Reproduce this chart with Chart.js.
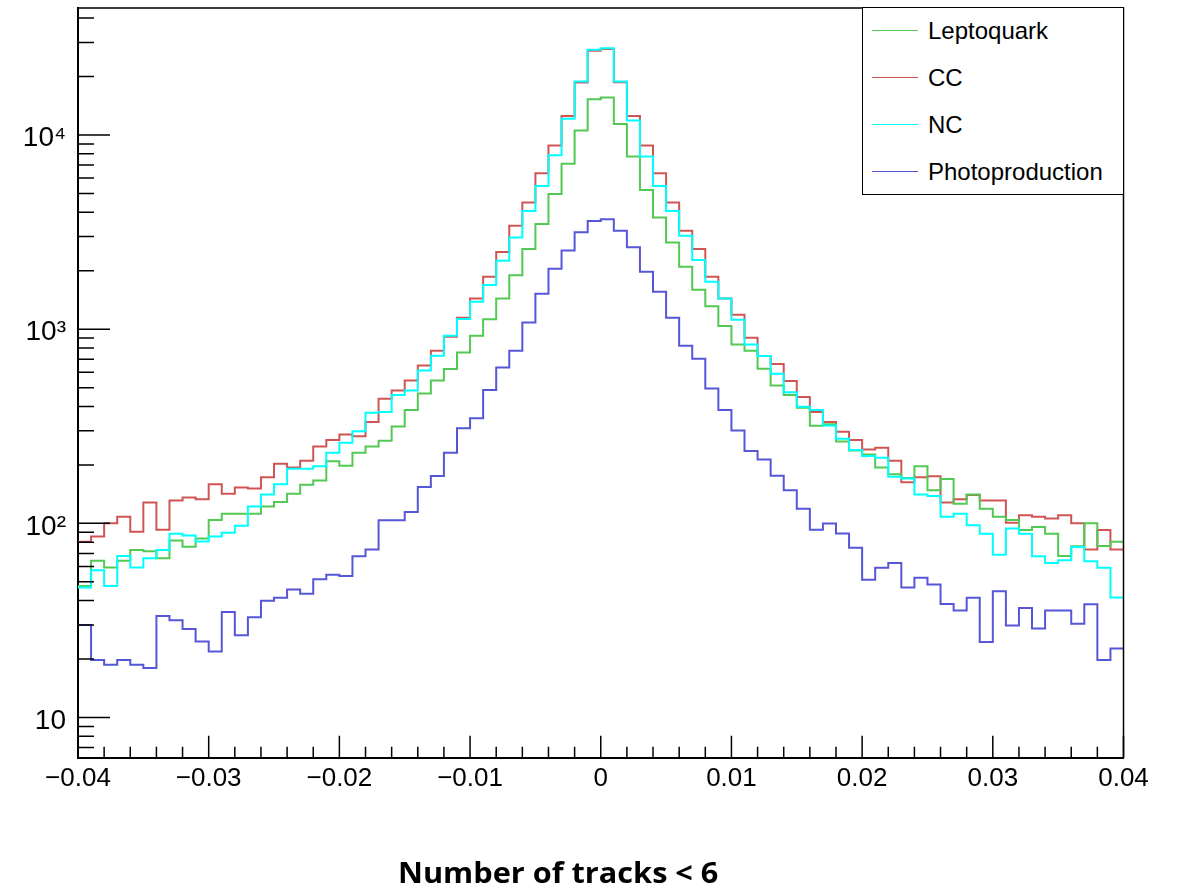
<!DOCTYPE html>
<html>
<head>
<meta charset="utf-8">
<script src="https://cdn.jsdelivr.net/npm/chart.js@4.4.1/dist/chart.umd.min.js"></script>
<style>
  html, body { margin: 0; padding: 0; background: #fff; }
  #wrap { position: relative; width: 1178px; height: 894px; overflow: hidden; background: #fff; }
  #chart { position: absolute; left: 0; top: 0; }
  #legendBox { position: absolute; left: 862px; top: 7px; width: 262px; height: 188px; box-sizing: border-box;
               border: 1.5px solid #000; background: #fff; }
  .lgLine { position: absolute; height: 0; border-top: 1.5px solid; width: 46px; }
  .lgText { position: absolute; font: 24px 'Liberation Sans', Arial, sans-serif; line-height: 24px; color: #000; white-space: nowrap; }
  #title { position: absolute; top: 858px; font: bold 28px 'Open Sans', 'Liberation Sans', sans-serif; line-height: 28px;
           color: #000; white-space: nowrap; transform-origin: center top; }
</style>
</head>
<body>
<div id="wrap">
  <canvas id="chart" width="1178" height="894"></canvas>
  <div id="legendBox"></div>
  <div id="title">Number of tracks &lt; 6</div>
</div>
<script>
// ---------- binning / ticks ----------
const xMin = -0.04;
const xMax = 0.04;
const nBins = 80;
const yMin = 6.21;
const yMax = 45100;
const xTickValues = [-0.04, -0.03, -0.02, -0.01, 0, 0.01, 0.02, 0.03, 0.04];
const xTickLabels = ['\u22120.04', '\u22120.03', '\u22120.02', '\u22120.01', '0', '0.01', '0.02', '0.03', '0.04'];
const yTickValues = [10, 100, 1000, 10000];
const yTickLabels = ['10', '10\u00B2', '10\u00B3', '10\u2074'];

// ---------- series (bin contents, 80 bins) ----------
const seriesNames = ['Leptoquark', 'CC', 'NC', 'Photoproduction'];

const leptoquark = [
  47.6, 64.2, 59.3, 64.2, 72.9, 71.9, 66.1, 81.6, 75.8, 83.6,
  104, 112, 112, 112, 122, 129, 142, 158, 166, 209,
  198, 231, 249, 266, 315, 383, 467, 544, 623, 759,
  926, 1124, 1440, 1895, 2590, 3484, 4969, 7123, 10546, 15300,
  15600, 11400, 7742, 5210, 3755, 2798, 2097, 1594, 1314, 1037,
  835, 774, 625, 513, 458, 394, 318, 324, 264, 237,
  226, 194, 179, 171, 197, 148, 169, 126, 141, 119,
  108, 104, 92.3, 95.8, 88.5, 68, 76.2, 100, 76.5, 80.3
];

const cc = [
  80.3, 85.5, 100, 108, 90.4, 128, 92.8, 131, 136, 133,
  159, 142, 153, 151, 173, 203, 194, 210, 249, 269,
  287, 281, 333, 438, 484, 544, 650, 775, 915, 1145,
  1440, 1864, 2498, 3412, 4486, 6363, 8831, 12540, 18650, 27200,
  27700, 18690, 12540, 8826, 6347, 4488, 3217, 2588, 1864, 1440,
  1186, 903, 727, 661, 541, 448, 375, 333, 296, 269,
  240, 245, 210, 163, 173, 175, 128, 133, 140, 131,
  131, 100.6, 110, 108, 106, 110, 100, 73.3, 92.3, 73.3
];

const nc = [
  46.7, 57.3, 47.6, 68, 59.3, 66.1, 72.9, 88.5, 86.5, 80.7,
  85.5, 89.4, 97.2, 122, 141, 159, 191, 191, 197, 231,
  260, 298, 371, 375, 458, 484, 613, 730, 926, 1128,
  1386, 1690, 2254, 2965, 4063, 5466, 7863, 12120, 18860, 27480,
  28020, 18880, 11880, 7742, 5466, 4061, 3032, 2270, 1755, 1440,
  1118, 835, 727, 589, 474, 399, 384, 319, 273, 239,
  222, 218, 174, 170, 141, 138.5, 108, 112, 97.8, 88.5,
  69, 94, 88.5, 67.7, 62.5, 64.5, 75.6, 63.8, 59, 41.5
];

const photoproduction = [
  30, 19.8, 18.7, 19.8, 18.7, 18, 33.3, 31.7, 28.6, 24.6,
  21.9, 35, 26.5, 32.8, 39.9, 41.4, 45.7, 43.4, 51.5, 54.4,
  53.5, 67.7, 73.3, 103.6, 103.6, 114.5, 154, 175.6, 231, 309,
  348, 486, 635, 774, 1081, 1523, 2049, 2539, 3154, 3611,
  3679, 3217, 2640, 1975, 1558, 1145, 821, 704, 495, 383,
  301, 236, 213, 176, 148, 119, 92.8, 99.7, 88.6, 74.8,
  51.3, 59, 62.5, 46.7, 52.4, 48.5, 38.4, 35.6, 41.4, 24.5,
  44.7, 29.8, 36.7, 28.7, 35.6, 35.6, 30.4, 38.3, 19.8, 22.7
];

// ---------- build histogram step data ----------
const binWidth = (xMax - xMin) / nBins;
const binEdges = Array.from({ length: nBins + 1 }, (_, i) => xMin + i * binWidth);
function toSteps(vals) {
  const pts = vals.map((v, i) => ({ x: binEdges[i], y: v }));
  pts.push({ x: binEdges[nBins], y: vals[nBins - 1] });
  return pts;
}

const colors = ['#52c952', '#cf5555', '#00ffff', '#5656d8'];
const drawOrder = [1, 3, 0, 2];
const seriesData = [leptoquark, cc, nc, photoproduction];

const datasets = seriesNames.map((name, i) => ({
  label: name,
  data: toSteps(seriesData[i]),
  borderColor: colors[i],
  backgroundColor: colors[i],
  borderWidth: 2,
  stepped: 'before',
  pointRadius: 0,
  fill: false,
  order: drawOrder[i]
}));

// ---------- ROOT-style inner ticks + frame ----------
const rootFrame = {
  id: 'rootFrame',
  afterDatasetsDraw(chart) {
    const { ctx, chartArea: a, scales: { x, y } } = chart;
    ctx.save();
    ctx.strokeStyle = '#000';
    ctx.lineWidth = 1.5;
    ctx.beginPath();
    for (let i = 0; i <= 40; i++) {
      const v = xMin + i * 0.002;
      const px = x.getPixelForValue(v);
      const len = (i % 5 === 0) ? 22 : 11;
      ctx.moveTo(px, a.bottom);
      ctx.lineTo(px, a.bottom - len);
    }
    for (let e = 0; e <= 4; e++) {
      for (let k = 1; k <= 9; k++) {
        const v = k * Math.pow(10, e);
        if (v < yMin || v > yMax) continue;
        const py = y.getPixelForValue(v);
        const len = (k === 1) ? 32 : 16;
        ctx.moveTo(a.left, py);
        ctx.lineTo(a.left + len, py);
      }
    }
    ctx.stroke();
    ctx.beginPath();
    ctx.moveTo(a.left, a.top);
    ctx.lineTo(a.right, a.top);
    ctx.lineTo(a.right, a.bottom);
    ctx.stroke();
    ctx.restore();
  }
};

const chart = new Chart(document.getElementById('chart'), {
  type: 'line',
  data: { datasets },
  options: {
    responsive: false,
    animation: false,
    devicePixelRatio: 1,
    layout: { padding: { left: 0, top: 8, right: 54.5, bottom: 0 } },
    plugins: { legend: { display: false }, tooltip: { enabled: false }, title: { display: false } },
    scales: {
      x: {
        type: 'linear',
        min: xMin,
        max: xMax,
        grid: { display: false, drawTicks: false },
        border: { display: true, color: '#000', width: 2 },
        afterBuildTicks: (s) => { s.ticks = xTickValues.map(v => ({ value: v })); },
        afterFit: (s) => { s.height = 894 - 757.7; s.paddingLeft = 0; s.paddingRight = 0; },
        ticks: {
          autoSkip: false,
          maxRotation: 0,
          color: '#000',
          padding: 6,
          font: { family: "'Liberation Sans', Arial, sans-serif", size: 26 },
          callback: (v, i) => xTickLabels[i]
        }
      },
      y: {
        type: 'logarithmic',
        min: yMin,
        max: yMax,
        grid: { display: false, drawTicks: false },
        border: { display: true, color: '#000', width: 2 },
        afterBuildTicks: (s) => { s.ticks = yTickValues.map(v => ({ value: v })); },
        afterFit: (s) => { s.width = 78; s.paddingTop = 0; s.paddingBottom = 0; },
        ticks: {
          autoSkip: false,
          color: '#000',
          padding: 12,
          labelOffset: 3.5,
          font: { family: "'Liberation Sans', Arial, sans-serif", size: 28 },
          callback: (v, i) => yTickLabels[i]
        }
      }
    }
  },
  plugins: [rootFrame]
});

// ---------- HTML legend (from chart datasets) ----------
const wrap = document.getElementById('wrap');
const legendCenters = [31, 78, 125, 172];
chart.data.datasets.forEach((ds, i) => {
  const ln = document.createElement('div');
  ln.className = 'lgLine';
  ln.style.left = '872px';
  ln.style.top = (legendCenters[i] - 0.75) + 'px';
  ln.style.borderTopColor = colors[i];
  wrap.appendChild(ln);
  const tx = document.createElement('div');
  tx.className = 'lgText';
  tx.style.left = '928px';
  tx.style.top = (legendCenters[i] - 12) + 'px';
  tx.textContent = ds.label;
  wrap.appendChild(tx);
});

// ---------- bottom caption ----------
const title = document.getElementById('title');
const w = title.offsetWidth;
const targetW = 320;
title.style.left = (558 - w / 2) + 'px';
title.style.transform = 'scaleX(' + (targetW / w).toFixed(3) + ')';
</script>
</body>
</html>
